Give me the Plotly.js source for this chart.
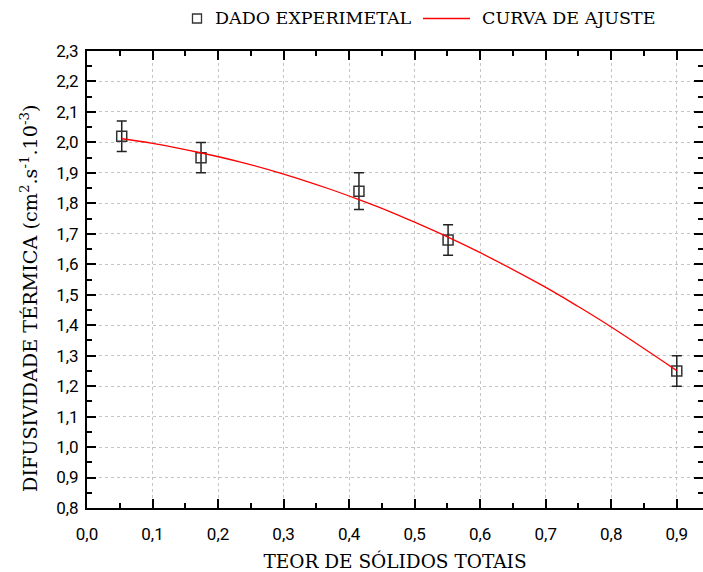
<!DOCTYPE html>
<html>
<head>
<meta charset="utf-8">
<script src="https://cdn.plot.ly/plotly-3.0.1.min.js"></script>
<style>
  html, body { margin: 0; padding: 0; background: #ffffff; }
  #chart { width: 703px; height: 572px; }
</style>
</head>
<body>
<div id="chart"></div>
<script>
// Experimental thermal diffusivity vs. total solids content
const solidos = [0.053, 0.174, 0.415, 0.551, 0.900];
const difusividade = [2.02, 1.95, 1.84, 1.68, 1.25];
const erro = [0.05, 0.05, 0.06, 0.05, 0.05];

// Fitted curve, sampled along its length
const ajusteX = [0.053, 0.100, 0.173, 0.233, 0.300, 0.370, 0.415, 0.462, 0.500, 0.550, 0.600, 0.696, 0.749, 0.800, 0.900];
const ajusteY = [2.012, 1.997, 1.966, 1.936, 1.896, 1.847, 1.812, 1.773, 1.738, 1.690, 1.638, 1.529, 1.462, 1.394, 1.251];

const xTicks = [0, 0.1, 0.2, 0.3, 0.4, 0.5, 0.6, 0.7, 0.8, 0.9];
const yTicks = [0.8, 0.9, 1.0, 1.1, 1.2, 1.3, 1.4, 1.5, 1.6, 1.7, 1.8, 1.9, 2.0, 2.1, 2.2, 2.3];

const serif = 'DejaVu Serif';
const sans = 'Roboto';

const W = 703, H = 572;
const M = { l: 87, r: 0, t: 51, b: 64 };
const pw = W - M.l - M.r, ph = H - M.t - M.b;
const px = v => (v - M.l) / pw;          // pixel x -> paper x
const py = v => (H - M.b - v) / ph;      // pixel y -> paper y

const dados = {
  x: solidos, y: difusividade, type: 'scatter', mode: 'markers',
  name: 'DADO EXPERIMETAL', showlegend: false,
  marker: { symbol: 'square-open', size: 10, color: '#333333', line: { width: 1.5, color: '#333333' } },
  error_y: { type: 'data', array: erro, visible: true, color: '#222222', thickness: 1.5, width: 5 }
};

const curva = {
  x: ajusteX, y: ajusteY, type: 'scatter', mode: 'lines',
  name: 'CURVA DE AJUSTE', showlegend: false,
  line: { color: '#ff0000', width: 1.3, shape: 'spline', smoothing: 1 }
};

const axisCommon = {
  showline: true, linecolor: '#000000', linewidth: 2, mirror: 'ticks',
  ticks: 'inside', ticklen: 9, tickwidth: 2, tickcolor: '#000000',
  showgrid: true, gridcolor: '#c4c4c4', gridwidth: 1, griddash: 'dot',
  zeroline: false, tickformat: '.1f',
  tickfont: { family: sans, size: 17, color: '#000000' }
};

const layout = {
  width: W, height: H,
  margin: M,
  font: { family: serif },
  paper_bgcolor: '#ffffff', plot_bgcolor: '#ffffff',
  separators: ',.',
  showlegend: false,
  xaxis: Object.assign({}, axisCommon, {
    range: [0, 0.94], tickvals: xTicks,
    minor: { dtick: 0.05, ticks: 'inside', ticklen: 5, tickwidth: 2, tickcolor: '#000000', showgrid: false },
    ticklabelstandoff: 10,
    title: { text: 'TEOR DE SÓLIDOS TOTAIS', font: { family: serif, size: 18.5, color: '#000000' }, standoff: 12 }
  }),
  yaxis: Object.assign({}, axisCommon, {
    range: [0.8, 2.3], tickvals: yTicks,
    minor: { dtick: 0.05, ticks: 'inside', ticklen: 5, tickwidth: 2, tickcolor: '#000000', showgrid: false },
    ticklabelstandoff: 3
  }),
  annotations: [
    {
      xref: 'paper', yref: 'paper', x: px(29), y: py(298),
      text: 'DIFUSIVIDADE TÉRMICA (cm<sup>2</sup>.s<sup>-1</sup>.10<sup>-3</sup>)',
      textangle: -90, showarrow: false, xanchor: 'center', yanchor: 'middle',
      font: { family: serif, size: 19.2, color: '#000000' }
    },
    {
      xref: 'paper', yref: 'paper', x: px(213), y: py(18),
      text: 'DADO EXPERIMETAL', showarrow: false, xanchor: 'left', yanchor: 'middle',
      font: { family: serif, size: 17.5, color: '#000000' }
    },
    {
      xref: 'paper', yref: 'paper', x: px(480), y: py(18),
      text: 'CURVA DE AJUSTE', showarrow: false, xanchor: 'left', yanchor: 'middle',
      font: { family: serif, size: 17.5, color: '#000000' }
    }
  ],
  shapes: [
    // legend key: open square
    { type: 'rect', xref: 'paper', yref: 'paper', x0: px(192.5), x1: px(201.5), y0: py(23), y1: py(14),
      line: { color: '#333333', width: 1.3 }, fillcolor: 'rgba(0,0,0,0)' },
    // legend key: red line
    { type: 'line', xref: 'paper', yref: 'paper', x0: px(423), x1: px(470), y0: py(18.5), y1: py(18.5),
      line: { color: '#ff0000', width: 1.3 } }
  ]
};

Plotly.newPlot('chart', [dados, curva], layout, { displayModeBar: false, staticPlot: true });
</script>
</body>
</html>
